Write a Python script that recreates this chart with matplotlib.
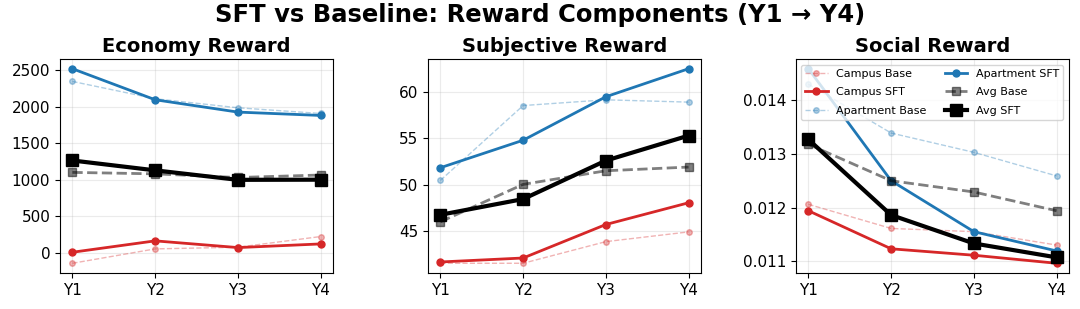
import numpy as np
import matplotlib
matplotlib.use("Agg")
import matplotlib.pyplot as plt

# ===================== DATA =====================

years = ["Y1", "Y2", "Y3", "Y4"]
titles = ["Economy Reward", "Subjective Reward", "Social Reward"]

# economy
eco_campus_base = [-142, 55, 78, 224]
eco_campus_sft = [9, 165, 73, 123]
eco_apt_base = [2349, 2112, 1988, 1910]
eco_apt_sft = [2523, 2098, 1929, 1883]
eco_avg_base = [1103, 1083, 1033, 1067]
eco_avg_sft = [1266, 1131, 1001, 1003]

# subjective
subj_campus_base = [41.5, 41.5, 43.84, 44.89]
subj_campus_sft = [41.64, 42.07, 45.69, 48.04]
subj_apt_base = [50.46, 58.55, 59.17, 58.92]
subj_apt_sft = [51.83, 54.8, 59.5, 62.53]
subj_avg_base = [45.98, 50.03, 51.5, 51.9]
subj_avg_sft = [46.74, 48.44, 52.6, 55.3]

# social
soc_campus_base = [0.01206, 0.01161, 0.01155, 0.01130]
soc_campus_sft = [0.01194, 0.01123, 0.01111, 0.01096]
soc_apt_base = [0.01430, 0.01339, 0.01303, 0.01259]
soc_apt_sft = [0.01459, 0.01250, 0.01155, 0.01119]
soc_avg_base = [0.01318, 0.01250, 0.01229, 0.01194]
soc_avg_sft = [0.01327, 0.01186, 0.01133, 0.01107]

panels = [
    (eco_campus_base, eco_campus_sft, eco_apt_base, eco_apt_sft, eco_avg_base, eco_avg_sft),
    (subj_campus_base, subj_campus_sft, subj_apt_base, subj_apt_sft, subj_avg_base, subj_avg_sft),
    (soc_campus_base, soc_campus_sft, soc_apt_base, soc_apt_sft, soc_avg_base, soc_avg_sft),
]

# ===================== PLOT =====================

fig, axes = plt.subplots(1, 3, figsize=(10.8, 3.09), dpi=100)
fig.subplots_adjust(left=60 / 1080, right=1069 / 1080,
                    top=1 - 59 / 309, bottom=1 - 273 / 309, wspace=0.348)

x = np.arange(len(years))

for ax, title, data in zip(axes, titles, panels):
    cb, cs, ab, asft, avb, avs = data
    ax.plot(x, cb, "--o", color="tab:red", alpha=0.35, lw=1, ms=4, label="Campus Base")
    ax.plot(x, cs, "-o", color="tab:red", lw=2, ms=5, label="Campus SFT")
    ax.plot(x, ab, "--o", color="tab:blue", alpha=0.35, lw=1, ms=4, label="Apartment Base")
    ax.plot(x, asft, "-o", color="tab:blue", lw=2, ms=5, label="Apartment SFT")
    ax.plot(x, avb, "--s", color="black", alpha=0.5, lw=2, ms=6, label="Avg Base")
    ax.plot(x, avs, "-s", color="black", lw=3, ms=8, label="Avg SFT")
    ax.set_title(title, fontsize=14, fontweight="bold", pad=5)
    ax.set_xticks(x)
    ax.set_xticklabels(years)
    ax.tick_params(labelsize=11)
    ax.grid(True, alpha=0.25)

axes[2].legend(ncol=2, fontsize=8, loc="upper right",
               labelspacing=0.75, columnspacing=1.6)

fig.suptitle("SFT vs Baseline: Reward Components (Y1 \u2192 Y4)",
             fontsize=17.5, fontweight="bold", y=0.99)

plt.savefig("out.png", dpi=100)
plt.close()
